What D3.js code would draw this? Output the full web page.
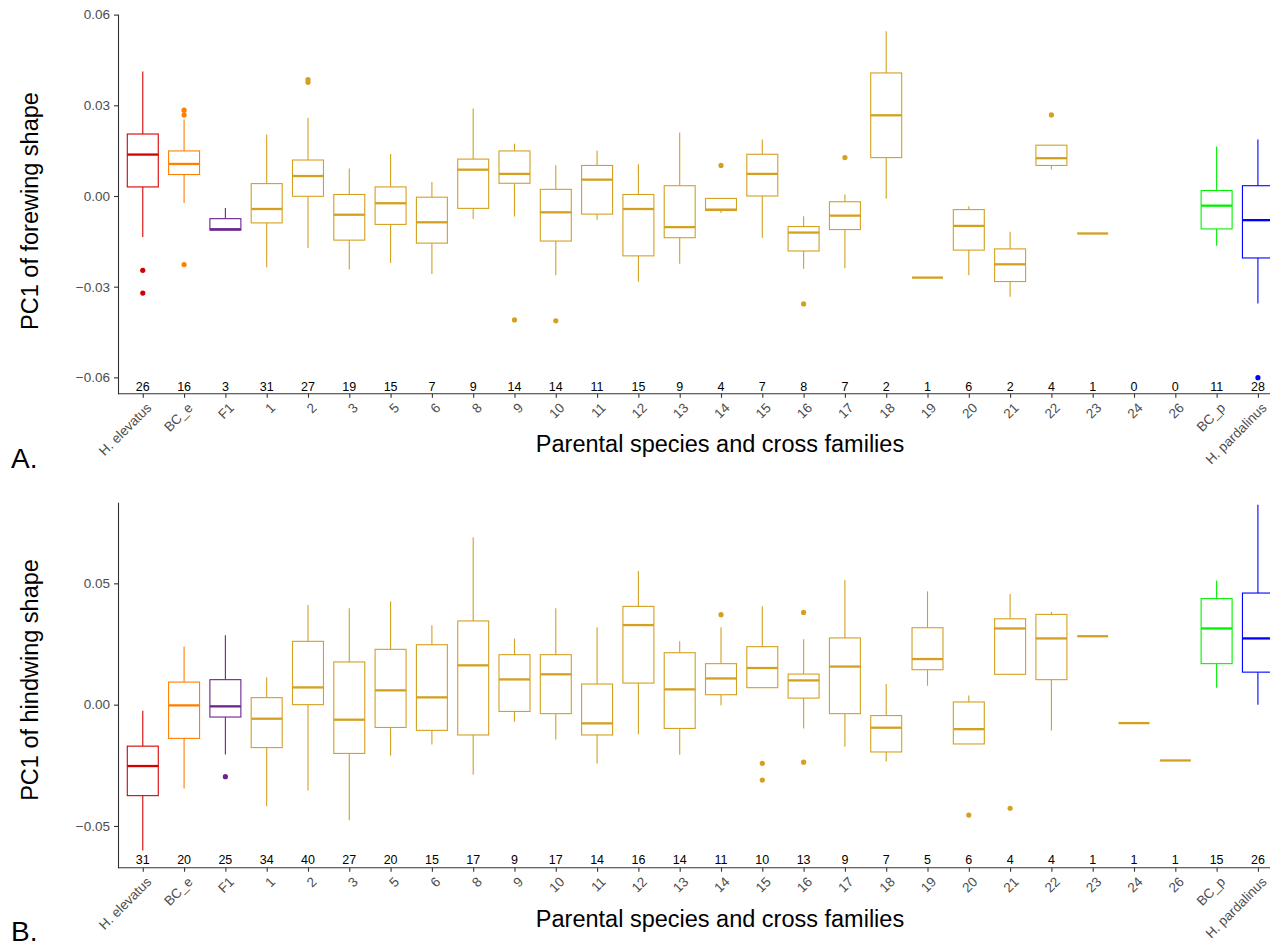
<!DOCTYPE html>
<html>
<head>
<meta charset="utf-8">
<script src="https://cdn.jsdelivr.net/npm/d3@7"></script>
<style>
  body { margin: 0; background: #fff; }
  svg { display: block; font-family: "Liberation Sans", Arial, sans-serif; }
</style>
</head>
<body>
<svg id="chart" width="1270" height="947"></svg>
<script>
// ---------------- data ----------------
const categories = ["H. elevatus","BC_e","F1","1","2","3","5","6","8","9","10","11","12","13","14","15","16","17","18","19","20","21","22","23","24","26","BC_p","H. pardalinus"];
const groupColors = ["#D40000","#FF7F00","#6A2490","#D4A020","#D4A020","#D4A020","#D4A020","#D4A020","#D4A020","#D4A020","#D4A020","#D4A020","#D4A020","#D4A020","#D4A020","#D4A020","#D4A020","#D4A020","#D4A020","#D4A020","#D4A020","#D4A020","#D4A020","#D4A020","#D4A020","#D4A020","#00F000","#0000FF"];

// Panel A: PC1 of forewing shape
const foreLow  = [-0.0136,-0.0023,-0.0113,-0.0236,-0.0172,-0.0243,-0.0222,-0.0258,-0.0076,-0.0068,-0.0262,-0.0079,-0.0284,-0.0224,-0.0056,-0.0138,-0.0241,-0.0239,-0.0009,-0.0270,-0.0262,-0.0333,0.0088,-0.0124,null,null,-0.0165,-0.0356];
const foreQ1   = [0.0030,0.0071,-0.0113,-0.0089,-0.0001,-0.0146,-0.0094,-0.0156,-0.0041,0.0042,-0.0149,-0.0060,-0.0198,-0.0138,-0.0048,0.0000,-0.0182,-0.0111,0.0127,-0.0270,-0.0179,-0.0283,0.0101,-0.0124,null,null,-0.0109,-0.0205];
const foreMed  = [0.0137,0.0106,-0.0110,-0.0043,0.0066,-0.0062,-0.0024,-0.0087,0.0087,0.0073,-0.0054,0.0054,-0.0043,-0.0103,-0.0045,0.0073,-0.0121,-0.0065,0.0267,-0.0270,-0.0099,-0.0226,0.0125,-0.0124,null,null,-0.0032,-0.0080];
const foreQ3   = [0.0205,0.0149,-0.0075,0.0041,0.0119,0.0005,0.0030,-0.0004,0.0122,0.0149,0.0022,0.0101,0.0005,0.0034,-0.0008,0.0138,-0.0101,-0.0019,0.0407,-0.0270,-0.0045,-0.0175,0.0168,-0.0124,null,null,0.0018,0.0034];
const foreHigh = [0.0412,0.0253,-0.0040,0.0203,0.0258,0.0091,0.0139,0.0046,0.0289,0.0173,0.0102,0.0150,0.0105,0.0210,-0.0008,0.0187,-0.0067,0.0005,0.0545,-0.0270,-0.0034,-0.0118,0.0168,-0.0124,null,null,0.0164,0.0187];
const foreOutliers = [[-0.0246,-0.0321],[0.0284,0.0268,-0.0227],[],[],[0.0385,0.0376],[],[],[],[],[-0.0410],[-0.0413],[],[],[],[0.0101],[],[-0.0357],[0.0127],[],[],[],[],[0.0268],[],[],[],[],[-0.0601]];
const foreCounts = [26,16,3,31,27,19,15,7,9,14,14,11,15,9,4,7,8,7,2,1,6,2,4,1,0,0,11,28];
const foreTicks = [-0.06,-0.03,0.00,0.03,0.06];

// Panel B: PC1 of hindwing shape
const hindLow  = [-0.0601,-0.0346,-0.0205,-0.0419,-0.0354,-0.0476,-0.0210,-0.0164,-0.0289,-0.0070,-0.0144,-0.0243,-0.0122,-0.0206,-0.0002,0.0070,-0.0098,-0.0173,-0.0234,0.0078,-0.0162,0.0125,-0.0107,0.0282,-0.0076,-0.0230,0.0070,0.0000];
const hindQ1   = [-0.0375,-0.0139,-0.0051,-0.0177,0.0000,-0.0201,-0.0094,-0.0106,-0.0125,-0.0028,-0.0037,-0.0125,0.0089,-0.0098,0.0041,0.0070,0.0027,-0.0037,-0.0195,0.0144,-0.0162,0.0125,0.0103,0.0282,-0.0076,-0.0230,0.0169,0.0134];
const hindMed  = [-0.0253,-0.0003,-0.0007,-0.0058,0.0071,-0.0062,0.0059,0.0030,0.0162,0.0104,0.0125,-0.0077,0.0328,0.0063,0.0108,0.0151,0.0100,0.0157,-0.0095,0.0188,-0.0101,0.0314,0.0273,0.0282,-0.0076,-0.0230,0.0314,0.0273];
const hindQ3   = [-0.0171,0.0093,0.0103,0.0029,0.0261,0.0176,0.0228,0.0247,0.0345,0.0206,0.0206,0.0085,0.0405,0.0214,0.0169,0.0239,0.0126,0.0275,-0.0045,0.0317,0.0011,0.0354,0.0372,0.0282,-0.0076,-0.0230,0.0437,0.0460];
const hindHigh = [-0.0025,0.0240,0.0286,0.0113,0.0411,0.0397,0.0425,0.0327,0.0690,0.0272,0.0397,0.0319,0.0551,0.0261,0.0319,0.0406,0.0270,0.0514,0.0085,0.0467,0.0038,0.0456,0.0382,0.0282,-0.0076,-0.0230,0.0512,0.0824];
const hindOutliers = [[],[],[-0.0297],[],[],[],[],[],[],[],[],[],[],[],[0.0371],[-0.0242,-0.0311],[0.0380,-0.0237],[],[],[],[-0.0455],[-0.0427],[],[],[],[],[],[]];
const hindCounts = [31,20,25,34,40,27,20,15,17,9,17,14,16,14,11,10,13,9,7,5,6,4,4,1,1,1,15,26];
const hindTicks = [-0.05,0.00,0.05];

// ---------------- drawing ----------------
const svg = d3.select("#chart");
const axisColor = "#333333";
const tickTextColor = "#4D4D4D";

function panel(cfg) {
  const g = svg.append("g");
  const x = d3.scalePoint().domain(categories).range([cfg.left, cfg.right]).padding(0.6);
  const y = d3.scaleLinear().domain(cfg.domain).range([cfg.bottom, cfg.top]);
  const bw = x.step() * 0.75;

  const rows = categories.map((c, i) => ({
    c, i, lo: cfg.low[i], q1: cfg.q1[i], med: cfg.med[i], q3: cfg.q3[i], hi: cfg.high[i],
    out: cfg.outliers[i], n: cfg.counts[i], col: groupColors[i]
  })).filter(d => d.med !== null);

  const bx = g.selectAll("g.box").data(rows).join("g").attr("class", "box");
  // whiskers
  bx.filter(d => d.hi > d.q3).append("line")
    .attr("x1", d => x(d.c)).attr("x2", d => x(d.c))
    .attr("y1", d => y(d.q3)).attr("y2", d => y(d.hi))
    .attr("stroke", d => d.col).attr("stroke-width", 1.1);
  bx.filter(d => d.lo < d.q1).append("line")
    .attr("x1", d => x(d.c)).attr("x2", d => x(d.c))
    .attr("y1", d => y(d.q1)).attr("y2", d => y(d.lo))
    .attr("stroke", d => d.col).attr("stroke-width", 1.1);
  // boxes
  bx.filter(d => d.q3 > d.q1).append("rect")
    .attr("x", d => x(d.c) - bw / 2).attr("width", bw)
    .attr("y", d => y(d.q3)).attr("height", d => y(d.q1) - y(d.q3))
    .attr("fill", "#fff").attr("stroke", d => d.col).attr("stroke-width", 1.1);
  // medians
  bx.append("line")
    .attr("x1", d => x(d.c) - bw / 2).attr("x2", d => x(d.c) + bw / 2)
    .attr("y1", d => y(d.med)).attr("y2", d => y(d.med))
    .attr("stroke", d => d.col).attr("stroke-width", 2.3);
  // outliers
  bx.selectAll("circle").data(d => d.out.map(v => ({ v, c: d.c, col: d.col }))).join("circle")
    .attr("cx", d => x(d.c)).attr("cy", d => y(d.v)).attr("r", 2.6)
    .attr("fill", d => d.col);

  // counts
  g.selectAll("text.count").data(categories).join("text").attr("class", "count")
    .attr("x", d => x(d)).attr("y", cfg.countY)
    .attr("text-anchor", "middle").attr("font-size", 12.5).attr("fill", "#000")
    .text((d, i) => cfg.counts[i]);

  // y axis
  const ya = g.append("g").attr("transform", `translate(${cfg.left},0)`)
    .call(d3.axisLeft(y).tickValues(cfg.ticks).tickFormat(d3.format(".2f")).tickSize(4).tickPadding(4).tickSizeOuter(0));
  ya.select(".domain").attr("stroke", axisColor).attr("stroke-width", 1.1);
  ya.selectAll(".tick line").attr("stroke", axisColor).attr("stroke-width", 1.1);
  ya.selectAll(".tick text").attr("fill", tickTextColor).attr("font-size", 13.5)
    .attr("font-family", "Liberation Sans, Arial, sans-serif");

  // x axis
  const xa = g.append("g").attr("transform", `translate(0,${cfg.bottom})`)
    .call(d3.axisBottom(x).tickSize(4).tickSizeOuter(0));
  xa.select(".domain").attr("stroke", axisColor).attr("stroke-width", 1.1)
    .attr("d", `M${cfg.left},0H${1300}`);
  xa.selectAll(".tick line").attr("stroke", axisColor).attr("stroke-width", 1.1);
  xa.selectAll(".tick text")
    .attr("fill", tickTextColor).attr("font-size", 13.5)
    .attr("font-family", "Liberation Sans, Arial, sans-serif")
    .attr("text-anchor", "end").attr("y", 0).attr("dy", 0)
    .attr("transform", "translate(9,15) rotate(-45)");

  // titles
  svg.append("text").attr("x", cfg.xTitleX).attr("y", cfg.xTitleY)
    .attr("text-anchor", "middle").attr("font-size", 23.5).attr("fill", "#000")
    .text("Parental species and cross families");
  svg.append("text").attr("transform", `translate(${cfg.yTitleX},${cfg.yTitleY}) rotate(-90)`)
    .attr("text-anchor", "middle").attr("font-size", 23.5).attr("fill", "#000")
    .text(cfg.yTitle);
  svg.append("text").attr("x", 11).attr("y", cfg.tagY)
    .attr("font-size", 28).attr("fill", "#000").text(cfg.tag);
}

panel({
  left: 118, right: 1282.7, top: 14, bottom: 393.7, domain: [-0.0654, 0.0602],
  low: foreLow, q1: foreQ1, med: foreMed, q3: foreQ3, high: foreHigh,
  outliers: foreOutliers, counts: foreCounts, ticks: foreTicks, countY: 390.5,
  xTitleX: 720, xTitleY: 452, yTitleX: 38, yTitleY: 211, yTitle: "PC1 of forewing shape",
  tag: "A.", tagY: 468
});
panel({
  left: 118, right: 1282.7, top: 502.3, bottom: 867.7, domain: [-0.0672, 0.0834],
  low: hindLow, q1: hindQ1, med: hindMed, q3: hindQ3, high: hindHigh,
  outliers: hindOutliers, counts: hindCounts, ticks: hindTicks, countY: 864,
  xTitleX: 720, xTitleY: 927, yTitleX: 38, yTitleY: 680, yTitle: "PC1 of hindwing shape",
  tag: "B.", tagY: 941
});
</script>
</body>
</html>
